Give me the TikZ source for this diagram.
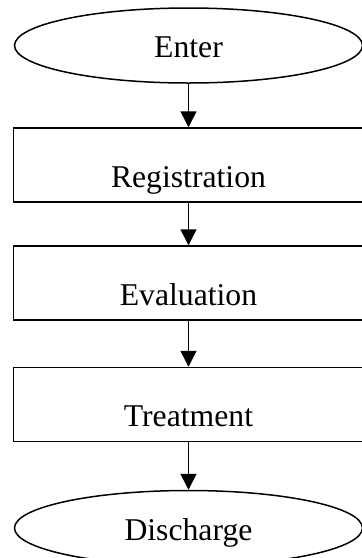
\documentclass[tikz,border=0pt]{standalone}
\usepackage{fontspec}
\setmainfont{Liberation Serif}
\usetikzlibrary{shapes.geometric, arrows.meta}

\begin{document}
\begin{tikzpicture}[x = 1pt, y = -1pt,
    font = \fontsize{31.7}{38}\selectfont,
    line width = 1.5pt,
    terminale/.style = {draw, ellipse, minimum width = 348pt, minimum height = 75pt, inner sep = 0pt, text height = 24pt, text depth = 0pt},
    passo/.style = {draw, rectangle, minimum width = 350pt, minimum height = 74pt, inner sep = 0pt, text height = 50pt, text depth = 6pt},
    freccia/.style = {-{Triangle[width = 16pt, length = 16pt]}}]
    % Variabili
    \pgfmathsetmacro{\centro}{188.5}
    % Bordo
    \useasboundingbox (0,0) rectangle (362,558);
    % Inizio e fine
    \node[terminale] (enter) at (\centro,45.5){Enter};
    \node[terminale] (discharge) at (\centro,528){Discharge};
    % Passi
    \node[passo] (registration) at (\centro,165){Registration};
    \node[passo] (evaluation) at (\centro,283){Evaluation};
    \node[passo] (treatment) at (\centro,404.5){Treatment};
    % Frecce
    \draw[freccia] (enter) -- (registration);
    \draw[freccia] (registration) -- (evaluation);
    \draw[freccia] (evaluation) -- (treatment);
    \draw[freccia] (treatment) -- (discharge);
\end{tikzpicture}
\end{document}
